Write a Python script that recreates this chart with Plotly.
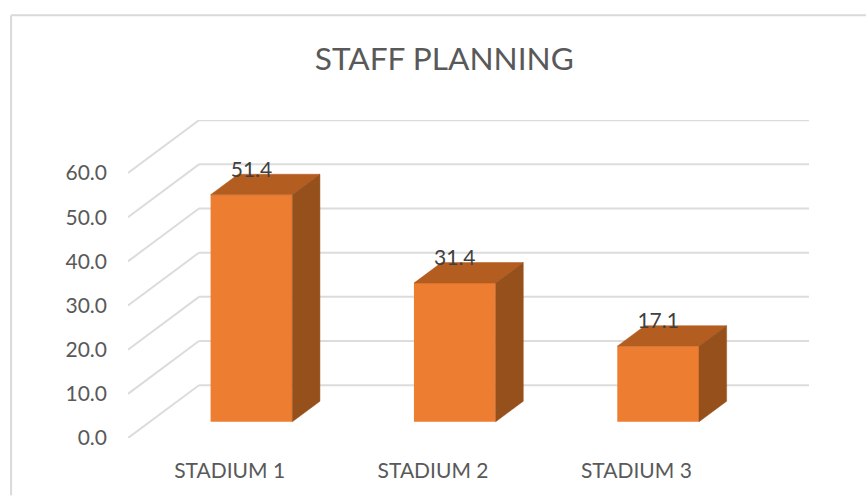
import plotly.graph_objects as go

categories = ["STADIUM 1", "STADIUM 2", "STADIUM 3"]
staff_share = [51.4, 31.4, 17.1]
value_ticks = [0, 10, 20, 30, 40, 50, 60]
value_tick_labels = ["0.0", "10.0", "20.0", "30.0", "40.0", "50.0", "60.0"]

FONT = "Lato"
GRID = "#dcdcdc"
FRONT = "#ED7D31"
TOP = "#B35D21"
SIDE = "#96501C"

# Oblique projection: moving through the full floor depth shifts a point
# right along x and up along the value axis.
WALL_DX = 0.349
WALL_DY = 11.96
BAR_NEAR = 0.307
BAR_FAR = 0.696
BAR_WIDTH = 0.402
X_LEFT = -0.5
X_RIGHT = 2.5 + WALL_DX

positions = list(range(len(categories)))


def project(x, value, depth):
    return x + depth * WALL_DX, value + depth * WALL_DY


fig = go.Figure()

# Front faces of the columns
fig.add_trace(go.Bar(
    x=[project(p, 0, BAR_NEAR)[0] for p in positions],
    y=staff_share,
    base=[project(p, 0, BAR_NEAR)[1] for p in positions],
    width=BAR_WIDTH,
    marker=dict(color=FRONT, line=dict(width=0)),
    hoverinfo="skip",
    showlegend=False,
))

# Top and side faces of the columns
for p, v in zip(positions, staff_share):
    left, right = p - BAR_WIDTH / 2, p + BAR_WIDTH / 2
    top = [project(left, v, BAR_NEAR), project(right, v, BAR_NEAR),
           project(right, v, BAR_FAR), project(left, v, BAR_FAR)]
    side = [project(right, 0, BAR_NEAR), project(right, v, BAR_NEAR),
            project(right, v, BAR_FAR), project(right, 0, BAR_FAR)]
    for face, colour in ((top, TOP), (side, SIDE)):
        fig.add_trace(go.Scatter(
            x=[c[0] for c in face] + [face[0][0]],
            y=[c[1] for c in face] + [face[0][1]],
            mode="lines",
            fill="toself",
            fillcolor=colour,
            line=dict(color=colour, width=0.5),
            hoverinfo="skip",
            showlegend=False,
        ))

# Value labels, floating just above each column's top
fig.add_trace(go.Scatter(
    x=[project(p, 0, BAR_NEAR)[0] for p in positions],
    y=[project(0, v, BAR_NEAR)[1] + 5.3 for v in staff_share],
    mode="text",
    text=[f"{v:.1f}" for v in staff_share],
    textposition="middle center",
    textfont=dict(family=FONT, size=21, color="#404040"),
    hoverinfo="skip",
    showlegend=False,
))

# Back wall and side wall gridlines
shapes = []
for v in value_ticks:
    back_x, back_y = project(X_LEFT, v, 1)
    shapes.append(dict(type="line", layer="below", xref="x", yref="y",
                       x0=X_LEFT, y0=v, x1=back_x, y1=back_y,
                       line=dict(color=GRID, width=2)))
    shapes.append(dict(type="line", layer="below", xref="x", yref="y",
                       x0=back_x, y0=back_y, x1=X_RIGHT, y1=back_y,
                       line=dict(color=GRID, width=2)))

# Chart frame along the top and left
L, T, PW, PH = 127.5, 119.5, 681.5, 319
frame_x0 = (10.5 - L) / PW
frame_x1 = (866 - L) / PW
frame_y = 1 - (14.5 - T) / PH
frame_y0 = 1 - (496 - T) / PH
shapes.append(dict(type="line", xref="paper", yref="paper", x0=frame_x0, x1=frame_x1,
                   y0=frame_y, y1=frame_y, line=dict(color="#d9d9d9", width=2)))
shapes.append(dict(type="line", xref="paper", yref="paper", x0=frame_x0, x1=frame_x0,
                   y0=frame_y0, y1=frame_y, line=dict(color="#d9d9d9", width=2)))

fig.update_layout(
    width=866,
    height=496,
    autosize=False,
    margin=dict(l=L, r=866 - L - PW, t=T, b=496 - T - PH, pad=0),
    paper_bgcolor="white",
    plot_bgcolor="white",
    showlegend=False,
    shapes=shapes,
    title=dict(
        text="STAFF PLANNING",
        font=dict(family=FONT, size=31.6, color="#595959"),
        x=(444 - L) / PW,
        xref="paper",
        xanchor="center",
        y=1 - 59 / 496,
        yref="container",
        yanchor="middle",
    ),
    xaxis=dict(
        range=[X_LEFT, X_RIGHT],
        tickmode="array",
        tickvals=positions,
        ticktext=categories,
        showgrid=False,
        zeroline=False,
        showline=False,
        ticks="",
        ticklabelstandoff=18,
        tickfont=dict(family=FONT, size=21, color="#595959"),
    ),
    yaxis=dict(
        range=[0, 72],
        tickmode="array",
        tickvals=value_ticks,
        ticktext=value_tick_labels,
        showgrid=False,
        zeroline=False,
        showline=False,
        ticks="",
        ticklabelstandoff=20,
        tickfont=dict(family=FONT, size=21, color="#595959"),
    ),
)

fig.write_html("out.html", config={"displayModeBar": False})
